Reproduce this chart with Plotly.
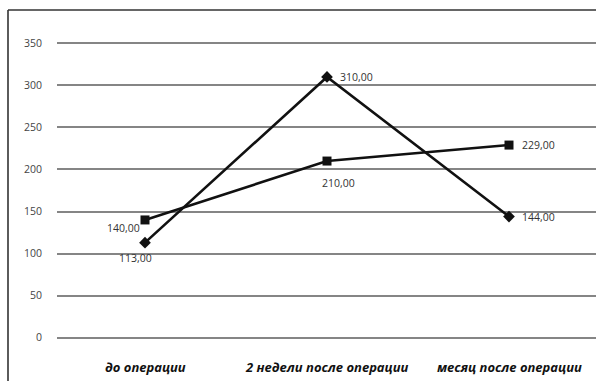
import plotly.graph_objects as go

# Category labels and series values
categories = ["до операции", "2 недели после операции", "месяц после операции"]
series_diamond = [113, 310, 144]
series_square = [140, 210, 229]
y_ticks = [0, 50, 100, 150, 200, 250, 300, 350]

W, H = 596, 381
L, R = 57, 0
Y_MIN, Y_MAX = -1.5, 351.5
PX_PER_UNIT = 295 / 350
T = round(43 - (Y_MAX - 350) * PX_PER_UNIT)
B = round(H - 338 - (0 - Y_MIN) * PX_PER_UNIT)

x_idx = list(range(len(categories)))


def fmt(v):
    return f"{v:.2f}".replace(".", ",")


fig = go.Figure()

fig.add_trace(go.Scatter(
    x=x_idx, y=series_diamond, mode="lines+markers",
    line=dict(color="#111111", width=2.6),
    marker=dict(symbol="diamond", size=9, color="#111111"),
    showlegend=False, cliponaxis=False,
))

fig.add_trace(go.Scatter(
    x=x_idx, y=series_square, mode="lines+markers",
    line=dict(color="#111111", width=2.6),
    marker=dict(symbol="square", size=9, color="#111111"),
    showlegend=False, cliponaxis=False,
))

# Value labels: (xanchor, xshift, yshift) per point
label_font = dict(family="Open Sans", size=10.5, color="#333333")
diamond_pos = [("center", -10, -15), ("left", 11, 0), ("left", 11, 0)]
square_pos = [("center", -22, -8), ("center", 11, -22), ("left", 11, 0)]
for vals, pos in ((series_diamond, diamond_pos), (series_square, square_pos)):
    for i, v, (xa, xs, ys) in zip(x_idx, vals, pos):
        fig.add_annotation(x=i, y=v, xref="x", yref="y", text=fmt(v),
                           showarrow=False, xanchor=xa, yanchor="middle",
                           xshift=xs, yshift=ys, font=label_font)

# Category labels, bold italic, below the plot
for i, c in zip(x_idx, categories):
    fig.add_annotation(
        x=i, y=0, xref="x", yref="y", yshift=-29,
        text=f"<b><i>{c}</i></b>", showarrow=False,
        font=dict(family="Open Sans", size=13, color="#111111"),
    )

# Outer frame of the chart (left and top edges)
ph = H - T - B
fx = lambda px: (px - L) / (W - L - R)
fy = lambda py: (H - B - py) / ph
fig.add_shape(type="line", xref="paper", yref="paper",
              x0=fx(8), x1=fx(8), y0=fy(10), y1=fy(H + 5),
              line=dict(color="#333333", width=1.6))
fig.add_shape(type="line", xref="paper", yref="paper",
              x0=fx(8), x1=fx(W + 5), y0=fy(10), y1=fy(10),
              line=dict(color="#333333", width=1.6))

spacing = 182.0
x0 = -(145 - L) / spacing
x1 = x0 + (W - L - R) / spacing

fig.update_layout(
    width=W, height=H,
    margin=dict(l=L, r=R, t=T, b=B),
    paper_bgcolor="white", plot_bgcolor="white",
    xaxis=dict(range=[x0, x1], showticklabels=False, showgrid=False,
               zeroline=False, showline=False, fixedrange=True),
    yaxis=dict(range=[Y_MIN, Y_MAX], tickvals=y_ticks, showgrid=True,
               gridcolor="#858585", gridwidth=1.5, zeroline=False,
               showline=False, ticks="", ticklabelstandoff=14,
               tickfont=dict(family="Open Sans", size=10.5, color="#444444")),
)

fig.write_html("out.html")
